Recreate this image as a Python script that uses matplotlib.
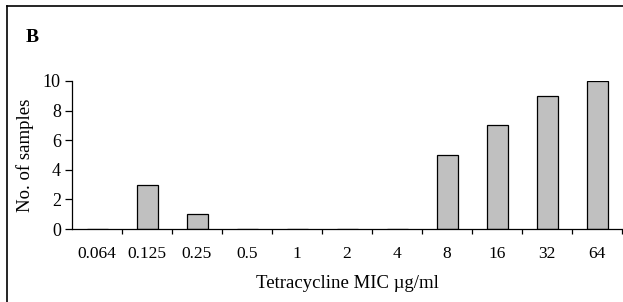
import matplotlib
matplotlib.use("Agg")
import matplotlib.pyplot as plt
from matplotlib.lines import Line2D

plt.rcParams["font.family"] = ["Liberation Serif", "DejaVu Serif"]

mic_labels = ["0.064", "0.125", "0.25", "0.5", "1", "2", "4", "8", "16", "32", "64"]
n_samples = [0, 3, 1, 0, 0, 0, 0, 5, 7, 9, 10]

W, H = 623, 302
fig = plt.figure(figsize=(W / 100, H / 100), dpi=100)
ax = fig.add_axes([72 / W, 1 - 229 / H, 550 / W, 148 / H])

x = list(range(len(mic_labels)))
ax.bar(x, n_samples, width=0.42, color="#c0c0c0", edgecolor="black", linewidth=0.9)

ax.set_xlim(-0.5, len(mic_labels) - 0.5)
ax.set_ylim(0, 10)
ax.set_yticks([0, 2, 4, 6, 8, 10])
ax.tick_params(axis="y", direction="out", length=5, width=0.9, labelsize=13, pad=3)

# tick marks at category boundaries, labels centred under categories
ax.set_xticks([i + 0.5 for i in x], minor=False)
ax.set_xticklabels([])
ax.set_xticks(x, minor=True)
ax.set_xticklabels(mic_labels, minor=True)
ax.tick_params(axis="x", which="major", direction="out", length=3.5, width=0.9)
ax.tick_params(axis="x", which="minor", length=0, labelsize=12.5, pad=12)

for s in ["top", "right"]:
    ax.spines[s].set_visible(False)
for s in ["left", "bottom"]:
    ax.spines[s].set_linewidth(0.9)

ax.set_xlabel("Tetracycline MIC µg/ml", fontsize=13.5)
ax.set_ylabel("No. of samples", fontsize=13.5)
ax.xaxis.set_label_coords((347 - 72) / 550, -(284 - 229) / 148)
ax.yaxis.set_label_coords((25 - 72) / 550, 0.5)
ax.xaxis.label.set_va("center")
ax.yaxis.label.set_va("center")

fig.text(26 / W, 1 - 37 / H, "B", fontsize=14, fontweight="bold", va="center", ha="left")

# outer frame (only left and top edges are visible in the crop)
fig.add_artist(Line2D([7 / W, 7 / W], [0, 1 - 6 / H], transform=fig.transFigure, color="black", linewidth=1.2))
fig.add_artist(Line2D([7 / W, 1], [1 - 6 / H, 1 - 6 / H], transform=fig.transFigure, color="black", linewidth=1.2))

fig.savefig("out.png", dpi=100)
